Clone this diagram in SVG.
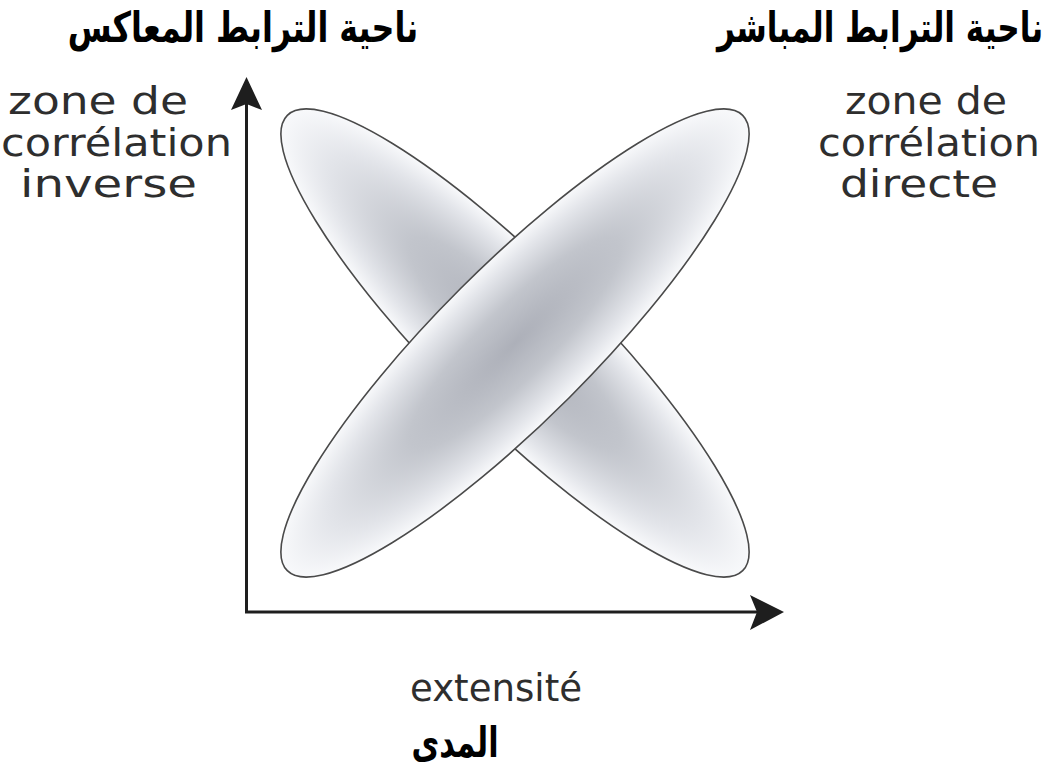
<svg xmlns="http://www.w3.org/2000/svg" width="1049" height="774" viewBox="0 0 1049 774">
  <style>
    .fr { font-family: "DejaVu Sans", "Liberation Sans", sans-serif; font-size: 37px; fill: #2e2e2e; }
    .ar { font-family: "DejaVu Sans", "Noto Sans", sans-serif; font-size: 42px; font-weight: bold; fill: #000; }
    .ell { fill: url(#shade); stroke: #4a4a4a; stroke-width: 1.6; }
    .axis { stroke: #1e1e1e; stroke-width: 3; fill: none; }
    .head { fill: #1e1e1e; }
  </style>
  <defs>
    <radialGradient id="shade" cx="0.5" cy="0.5" r="0.5">
      <stop offset="0" stop-color="#adb0b9"/>
      <stop offset="0.45" stop-color="#c2c5cc"/>
      <stop offset="0.8" stop-color="#e3e5ea"/>
      <stop offset="1" stop-color="#f8f9fb"/>
    </radialGradient>
  </defs>
  <rect width="1049" height="774" fill="#ffffff"/>

  <g id="connectors">
    <line class="axis" x1="246.5" y1="612" x2="246.5" y2="100"/>
    <line class="axis" x1="245" y1="612" x2="760" y2="612"/>
    <polygon class="head" points="246.5,77 231,110 246.5,104 262,110"/>
    <polygon class="head" points="784,612 750,595 757,612 750,630"/>
  </g>

  <g id="ellipse-inverse">
    <ellipse class="ell" cx="515" cy="343" rx="322" ry="77" transform="rotate(45 515 343)"/>
  </g>
  <g id="ellipse-direct">
    <ellipse class="ell" cx="515" cy="343" rx="322" ry="77" transform="rotate(-45 515 343)"/>
  </g>

  <g id="label-inverse">
    <text class="ar" x="0" y="0" text-anchor="middle" direction="rtl" transform="translate(243 42) scale(0.756 1)">ناحية الترابط المعاكس</text>
    <text class="fr" x="8" y="114" textLength="180" lengthAdjust="spacingAndGlyphs">zone de</text>
    <text class="fr" x="1" y="156" textLength="231" lengthAdjust="spacingAndGlyphs">corrélation</text>
    <text class="fr" x="20" y="197" textLength="177" lengthAdjust="spacingAndGlyphs">inverse</text>
  </g>

  <g id="label-direct">
    <text class="ar" x="0" y="0" text-anchor="middle" direction="rtl" transform="translate(880 42) scale(0.74 1)">ناحية الترابط المباشر</text>
    <text class="fr" x="845" y="114" textLength="162" lengthAdjust="spacingAndGlyphs">zone de</text>
    <text class="fr" x="818" y="156" textLength="222" lengthAdjust="spacingAndGlyphs">corrélation</text>
    <text class="fr" x="840" y="197" textLength="158" lengthAdjust="spacingAndGlyphs">directe</text>
  </g>

  <g id="label-extent">
    <text class="fr" x="410" y="701" textLength="172" lengthAdjust="spacingAndGlyphs">extensité</text>
    <text class="ar" x="0" y="0" text-anchor="middle" direction="rtl" transform="translate(455 757) scale(0.72 1)">المدى</text>
  </g>
</svg>
